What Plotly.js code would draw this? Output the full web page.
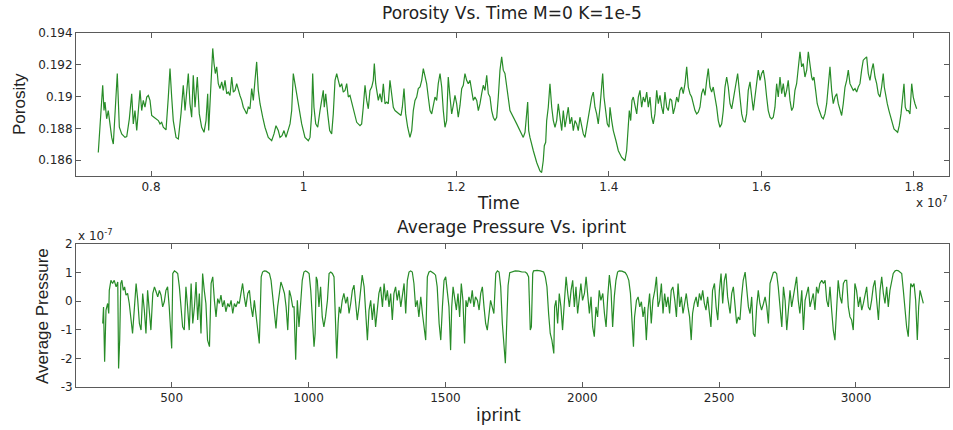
<!DOCTYPE html>
<html>
<head>
<meta charset="utf-8">
<script src="https://cdn.plot.ly/plotly-3.0.1.min.js"></script>
<style>
  html, body { margin: 0; padding: 0; background: #ffffff; }
  #chart { width: 953px; height: 430px; }
</style>
</head>
<body>
<div id="chart"></div>
<script>
// ---------- Top panel: Porosity vs Time (time in units of 1e7) ----------
const timeE7 = [
0.7309,0.7367,0.7384,0.7397,0.7419,0.7440,0.7485,0.7506,0.7558,0.7585,
0.7616,0.7659,0.7682,0.7716,0.7747,0.7768,0.7790,0.7813,0.7856,0.7878,
0.7899,0.7921,0.7944,0.7965,0.7987,0.8009,0.8039,0.8066,0.8096,0.8118,
0.8140,0.8161,0.8197,0.8227,0.8249,0.8271,0.8292,0.8328,0.8358,0.8393,
0.8423,0.8446,0.8468,0.8489,0.8511,0.8533,0.8554,0.8577,0.8607,0.8633,
0.8664,0.8695,0.8721,0.8743,0.8756,0.8782,0.8809,0.8826,0.8843,0.8861,
0.8882,0.8904,0.8927,0.8948,0.8970,0.8992,0.9013,0.9035,0.9058,0.9079,
0.9101,0.9123,0.9144,0.9166,0.9189,0.9210,0.9232,0.9254,0.9275,0.9297,
0.9320,0.9341,0.9363,0.9385,0.9406,0.9429,0.9464,0.9494,0.9537,0.9582,
0.9612,0.9638,0.9668,0.9691,0.9717,0.9743,0.9769,0.9799,0.9822,0.9844,
0.9865,0.9887,
0.9931,0.9975,1.0018,1.0062,1.0084,1.0106,1.0119,1.0136,1.0159,1.0185,
1.0215,1.0237,1.0258,1.0271,1.0290,1.0316,1.0342,1.0368,1.0389,1.0412,
1.0434,1.0455,1.0477,1.0499,1.0520,1.0543,1.0565,1.0586,1.0608,1.0630,
1.0664,1.0696,1.0739,1.0761,1.0782,1.0805,1.0827,1.0848,1.0870,1.0893,
1.0913,1.0927,1.0945,1.0958,1.0979,1.1001,1.1024,1.1045,1.1067,1.1089,
1.1110,1.1132,1.1155,1.1176,1.1198,1.1220,1.1250,1.1277,1.1294,1.1316,
1.1338,1.1364,1.1394,1.1417,1.1438,1.1460,1.1482,1.1503,1.1526,1.1548,
1.1569,1.1591,1.1613,1.1634,1.1657,1.1679,1.1700,1.1722,1.1744,1.1765,
1.1788,1.1810,1.1831,1.1853,1.1875,1.1896,1.1919,1.1941,1.1962,1.1984,
1.2006,1.2027,1.2050,1.2072,1.2093,1.2115,1.2137,1.2158,1.2181,1.2203,
1.2224,1.2246,1.2269,1.2290,1.2312,1.2334,1.2355,1.2377,1.2400,1.2421,
1.2443,1.2465,1.2486,1.2508,1.2531,1.2552,1.2574,1.2596,1.2617,1.2639,
1.2662,1.2683,
1.2705,1.2793,1.2879,1.2902,1.2924,1.2937,1.2950,1.2967,1.3011,1.3055,
1.3098,1.3120,1.3141,1.3155,1.3173,1.3186,1.3207,1.3229,1.3252,1.3273,
1.3295,1.3317,1.3338,1.3360,1.3383,1.3404,1.3426,1.3448,1.3469,1.3491,
1.3514,1.3535,1.3557,1.3579,1.3600,1.3622,1.3645,1.3666,1.3688,1.3710,
1.3731,1.3753,1.3776,1.3797,1.3819,1.3841,1.3862,1.3885,1.3907,1.3920,
1.3937,1.3959,1.3980,1.4003,1.4016,1.4038,1.4059,1.4094,1.4125,1.4169,
1.4212,1.4234,1.4256,1.4269,1.4287,1.4304,1.4321,1.4343,1.4366,1.4387,
1.4409,1.4431,1.4452,1.4474,1.4497,1.4518,1.4540,1.4562,1.4583,1.4605,
1.4628,1.4649,1.4671,1.4693,1.4714,1.4736,1.4759,1.4780,1.4802,1.4824,
1.4845,1.4867,1.4890,1.4911,1.4933,1.4955,1.4976,1.4999,1.5021,1.5042,
1.5064,1.5086,1.5107,1.5130,1.5152,1.5173,1.5195,1.5217,1.5238,1.5261,
1.5283,1.5304,1.5326,1.5348,1.5369,1.5392,1.5414,1.5435,1.5457,1.5480,
1.5501,1.5523,1.5545,1.5566,
1.5589,1.5611,1.5654,1.5689,1.5719,1.5742,1.5763,1.5785,1.5807,1.5828,
1.5851,1.5873,1.5894,1.5916,1.5938,1.5959,1.5982,1.6004,1.6025,1.6047,
1.6069,1.6090,1.6113,1.6135,1.6156,1.6178,1.6200,1.6221,1.6244,1.6266,
1.6287,1.6309,1.6331,1.6352,1.6375,1.6397,1.6418,1.6440,1.6462,1.6483,
1.6506,1.6528,1.6549,1.6571,1.6594,1.6615,1.6637,1.6659,1.6672,1.6689,
1.6711,1.6732,1.6759,1.6790,1.6811,1.6833,1.6856,1.6877,1.6899,1.6921,
1.6942,1.6964,1.6987,1.7008,1.7030,1.7052,1.7073,1.7096,1.7118,1.7139,
1.7161,1.7183,1.7204,1.7227,1.7249,1.7270,1.7292,1.7314,1.7335,1.7358,
1.7380,1.7401,1.7423,1.7445,1.7466,1.7489,1.7511,1.7532,1.7554,1.7576,
1.7597,1.7611,1.7629,1.7650,1.7672,1.7694,1.7715,1.7738,1.7760,1.7786,
1.7807,1.7830,1.7852,1.7869,1.7886,1.7904,1.7926,1.7947,1.7970,1.7991,
1.8013,1.8035
];

const porosity = [
0.18648,0.19071,0.18912,0.18965,0.18860,0.18912,0.18743,0.18701,0.19145,0.18807,
0.18765,0.18743,0.18748,0.18860,0.19018,0.18828,0.18912,0.18786,0.19039,0.18912,
0.18976,0.18933,0.18997,0.19007,0.18976,0.18881,0.18870,0.18860,0.18849,0.18828,
0.18838,0.18807,0.18790,0.18997,0.19176,0.18997,0.18849,0.18743,0.18733,0.18891,
0.19071,0.18912,0.19039,0.19145,0.18955,0.18870,0.19134,0.18933,0.19123,0.18891,
0.18807,0.18775,0.18849,0.19018,0.18786,0.19039,0.19303,0.19208,0.19145,0.19187,
0.19081,0.19050,0.19092,0.19039,0.19102,0.19018,0.19028,0.19007,0.19123,0.19028,
0.19039,0.19081,0.19039,0.19007,0.18976,0.18933,0.18912,0.18891,0.18933,0.18923,
0.19050,0.18976,0.19102,0.19218,0.19039,0.18955,0.18870,0.18807,0.18743,0.18722,
0.18765,0.18817,0.18786,0.18743,0.18754,0.18786,0.18743,0.18796,0.18828,0.18912,
0.19145,0.19081,
0.18955,0.18828,0.18743,0.18722,0.18743,0.18891,0.19145,0.18933,
0.18828,0.18807,0.18912,0.18976,0.19039,0.18933,0.19018,0.18891,0.18786,0.18765,
0.18891,0.19102,0.19145,0.19102,0.19060,0.19081,0.19028,0.19039,0.19081,0.18997,
0.19007,0.18965,0.18891,0.18838,0.18817,0.18828,0.18933,0.19071,0.18976,0.18923,
0.19039,0.19060,0.19102,0.19208,0.19081,0.19050,0.18976,0.19018,0.18965,0.19081,
0.18955,0.18965,0.18955,0.19102,0.18997,0.18933,0.18912,0.18902,0.18891,0.18881,
0.18933,0.19050,0.18891,0.18807,0.18743,0.18786,0.18912,0.18976,0.18997,0.19050,
0.19060,0.19102,0.19176,0.19123,0.19081,0.18997,0.18912,0.18891,0.18955,0.18997,
0.18976,0.19081,0.19145,0.19060,0.18912,0.18807,0.18849,0.19123,0.18997,0.18891,
0.18944,0.19007,0.18955,0.18870,0.18944,0.19050,0.19071,0.19145,0.19102,0.19081,
0.19102,0.19039,0.18976,0.18997,0.18976,0.18912,0.18955,0.19018,0.19071,0.19039,
0.19134,0.19018,0.18997,0.18912,0.18870,0.18849,0.18870,0.18997,0.19166,0.19250,
0.19166,0.19145,0.19060,0.18997,
0.18912,0.18828,0.18743,0.18775,0.18912,0.18965,
0.18786,0.18743,0.18659,0.18585,0.18532,0.18522,0.18596,0.18691,0.18712,0.18849,
0.18933,0.19081,0.18933,0.18849,0.18807,0.18849,0.18955,0.18870,0.18786,0.18912,
0.18807,0.18870,0.18933,0.18828,0.18870,0.18786,0.18849,0.18828,0.18786,0.18870,
0.18807,0.18765,0.18743,0.18807,0.18891,0.18955,0.18997,0.19028,0.18933,0.18891,
0.18828,0.18933,0.19039,0.19145,0.18997,0.18891,0.18828,0.18807,0.18933,0.18849,
0.18786,0.18722,0.18659,0.18617,0.18596,0.18659,0.18870,0.18912,0.18849,0.18976,
0.18997,0.18933,0.18891,0.18997,0.19039,0.18933,0.18997,0.18965,0.19028,0.18933,
0.18997,0.18870,0.18828,0.18891,0.19039,0.18955,0.19007,0.18933,0.18891,0.19028,
0.18933,0.18912,0.18986,0.18976,0.18891,0.18933,0.18997,0.18965,0.19039,0.19060,
0.19018,0.19081,0.19187,0.19060,0.19018,0.18997,0.18955,0.18912,0.18891,0.18902,
0.18933,0.19018,0.19050,0.19007,0.19102,0.19176,0.19060,0.19028,0.19060,0.18997,
0.18933,0.18849,0.18807,0.18828,0.18912,0.19060,0.19123,0.19060,
0.18955,0.18923,0.19039,0.19145,0.18997,0.18891,0.18849,0.18838,0.18891,0.19039,0.19092,0.18997,
0.18912,0.18997,0.19081,0.19166,0.19102,0.19145,0.19166,0.19102,0.18997,0.18912,
0.18870,0.18860,0.18870,0.18933,0.19081,0.18997,0.19123,0.19018,0.19081,0.18997,
0.19039,0.19102,0.18976,0.18912,0.18933,0.19039,0.19081,0.19187,0.19282,0.19187,
0.19208,0.19123,0.19166,0.19282,0.19187,0.19123,0.19102,0.19123,0.19039,0.18955,
0.18912,0.18870,0.18860,0.18891,0.18955,0.19060,0.19187,0.19039,0.18955,0.18997,
0.19018,0.18955,0.18912,0.18881,0.18955,0.19060,0.19102,0.19166,0.19081,0.19060,
0.19039,0.19050,0.19028,0.19060,0.19081,0.19166,0.19229,0.19240,0.19250,0.19145,
0.19102,0.19166,0.19208,0.19123,0.19081,0.19018,0.18997,0.19060,0.19145,0.19060,
0.18997,0.18955,0.18912,0.18870,0.18828,0.18796,0.18786,0.18775,0.18817,0.18891,
0.18997,0.19081,0.18933,0.18912,0.18912,0.18891,0.19081,0.18997,0.18955,0.18923
];

// ---------- Bottom panel: Average Pressure (units of 1e-7) vs iprint ----------
const iprint = [
248,251,255,260,266,270,272,278,284,290,297,303,306,310,314,318,323,328,333,339,
345,351,357,364,370,376,382,388,394,400,406,412,418,424,431,437,443,449,455,461,
467,473,479,485,491,496,500,504,510,516,522,528,534,540,546,552,558,564,571,577,
583,589,595,601,607,613,619,625,631,638,644,650,656,662,668,674,680,686,692,698,
705,711,717,723,729,735,741,747,753,759,765,771,778,784,790,796,802,808,814,820,
824,827,832,838,845,851,857,863,869,875,881,887,893,899,905,912,918,924,930,936,
942,
947,953,959,965,971,977,983,989,996,1002,1008,1014,1020,1024,1028,1032,1038,1044,1050,1056,
1062,1069,1075,1081,1087,1093,1099,1103,1108,1112,1117,1123,1129,1136,1142,1148,1154,1160,1166,1172,
1178,1184,1190,1196,1203,1209,1215,1221,1227,1233,1239,1245,1251,1257,1263,1270,1276,1282,1288,1294,
1300,1306,1312,1318,1324,1330,1337,1343,1349,1355,1361,1367,1373,1379,1385,1391,1397,1403,1410,1416,
1422,1428,1434,1440,1446,1452,1458,1464,1470,1477,1483,1489,1495,1501,1507,1513,1519,1523,1528,1534,
1540,1546,1552,1558,1564,1570,1575,1580,1586,1592,1598,1604,1610,1617,1623,1629,1635,1641,1647,1653,
1659,1665,1671,1677,1684,1690,1696,1702,1708,1714,1719,1724,1729,1735,
1743,1755,1768,1780,1792,1798,1804,1810,1814,1819,1822,1835,1847,1859,1865,1871,1877,1883,1889,1896,
1899,1904,1910,1916,1922,1928,1935,1941,1947,1953,1959,1965,1971,1977,1983,1989,1995,2001,2008,2014,
2020,2026,2032,2038,2044,2050,2056,2062,2068,2075,2081,2087,2093,2099,2105,2111,2117,2123,2129,2135,
2145,2157,2163,2170,2176,2182,2187,2191,2198,2204,2210,2216,2222,2228,2234,2240,2246,2252,2258,2265,
2271,2277,2283,2289,2295,2301,2307,2313,2319,2325,2331,2338,2344,2350,2356,2362,2368,2374,2380,2386,
2392,2398,2403,2409,2416,2422,2428,2434,2440,2446,2452,2458,2464,2470,2476,2483,2489,2495,2501,2507,
2513,2519,2525,2531,
2540,2546,2552,2558,2564,2570,2576,2582,2588,2595,2601,2607,2613,2619,2625,2631,2637,2643,2649,2655,
2662,2668,2674,2680,2686,2692,2698,2704,2710,2716,2722,2729,2735,2741,2747,2753,2759,2765,2771,2777,
2783,2789,2795,2802,2808,2814,2820,2826,2832,2838,2844,2850,2856,2862,2868,2875,2881,2887,2893,2899,
2905,2911,2917,2923,2929,2935,2942,2948,2954,2960,2966,2972,2978,2984,2990,2996,3002,3009,3015,3021,
3027,3033,3039,3045,3051,3057,3063,3069,3076,3082,3088,3094,3100,3106,3112,3118,3124,3130,3136,3143,
3149,3155,3161,3167,3173,3179,3185,3191,3195,3200,3206,3212,3218,3224,3229,3234,3240,3246
];

const avgPressureE7 = [
-0.78,-0.20,-2.12,-0.31,-0.08,-0.43,0.38,0.73,0.62,0.73,0.50,0.67,-2.35,-1.36,0.62,0.73,0.38,0.50,0.21,0.27,
-0.08,-0.55,-1.13,-0.20,0.62,0.03,-0.78,-1.01,0.27,-0.31,-1.13,0.38,-0.20,-1.01,0.27,0.50,0.33,0.15,0.38,0.21,
-0.20,-0.02,0.38,0.50,-0.20,-0.90,-1.65,0.97,1.06,1.02,0.97,0.50,-0.20,-0.90,-1.01,0.50,-0.20,-1.01,0.62,-0.78,
-0.20,0.67,-0.66,0.27,-1.13,0.97,0.38,-0.08,-1.36,-1.59,0.62,0.85,0.03,-0.55,0.09,-0.08,0.21,-0.20,0.03,-0.37,
-0.08,-0.20,0.03,-0.43,-0.08,-0.20,-0.02,-0.08,0.27,0.62,0.15,-0.20,0.27,0.38,-0.20,-0.55,0.03,-0.43,-1.01,-1.48,
-0.20,0.85,1.02,1.06,1.05,1.02,0.97,0.73,0.15,-0.55,-0.95,-0.20,0.27,0.67,0.50,0.27,-0.20,-1.01,0.38,0.15,
-0.20,
-0.20,-2.05,0.03,-0.90,-0.08,0.73,1.02,1.06,1.02,0.97,0.38,-0.66,-1.59,-1.13,0.85,0.73,-0.20,0.50,-0.55,-0.90,
-0.55,0.03,0.97,1.02,0.97,0.85,-0.78,-2.00,-0.78,-0.20,-0.43,0.03,0.27,-0.08,0.15,-0.43,-0.08,0.38,0.56,0.03,
-0.66,-0.20,0.50,0.91,0.50,-0.55,-1.36,-0.31,0.03,-0.66,-0.08,-0.90,-0.20,0.27,0.50,-0.20,0.62,0.03,0.38,-0.20,
0.27,-0.66,0.27,0.50,0.03,0.38,-0.20,0.15,0.62,-0.43,0.73,1.02,1.06,1.02,0.62,-0.20,0.03,-0.55,0.15,-0.43,
-0.90,-1.36,0.85,1.02,1.05,1.02,0.97,0.91,0.50,-0.78,-1.36,-0.20,0.73,0.85,0.38,-0.20,-1.71,-0.20,0.50,0.15,
-0.31,0.27,-0.55,0.62,0.03,-1.48,0.03,-0.20,0.15,-0.08,0.38,-0.20,0.15,0.03,-0.31,0.27,0.50,-0.20,-0.78,-1.01,
-0.43,0.03,-0.20,-0.43,0.97,1.06,1.02,0.50,-0.78,-1.71,-2.17,-0.78,0.55,1.00,
1.02,1.06,1.05,1.02,1.02,0.97,0.85,-1.01,-0.90,0.97,1.06,1.08,1.06,1.02,0.85,0.50,-0.43,-1.13,-1.36,-1.83,
-0.20,0.03,-0.78,0.27,-0.20,-1.01,0.03,0.85,0.27,-0.20,0.38,0.73,-0.20,0.50,-0.43,0.15,0.62,0.03,0.27,0.85,
0.03,-0.43,0.15,-0.90,-1.24,-0.20,-0.55,0.38,0.03,0.27,-0.43,-0.90,0.15,0.91,0.38,-0.90,0.15,0.73,1.02,1.06,
1.05,1.00,0.91,0.73,0.27,-0.55,-1.59,-0.55,0.03,0.15,-0.20,-0.02,-0.55,-0.20,-1.36,-0.31,0.27,-0.78,0.03,0.38,
0.85,-0.20,0.03,0.62,-0.43,0.27,-0.20,0.15,-0.43,0.38,0.50,0.03,-0.55,0.62,-0.20,0.15,-0.43,-0.08,0.27,-0.20,
-0.55,-1.36,-0.43,-0.08,0.15,-0.20,0.27,0.03,0.38,-0.08,-0.31,0.15,-0.31,-0.90,0.38,0.62,-0.20,-0.66,0.38,0.97,
-0.08,0.73,0.97,0.15,
-0.43,0.27,0.50,-0.20,-0.78,-0.55,-0.66,0.15,0.73,1.02,0.50,-0.20,-0.43,0.15,-1.13,-1.24,-0.20,0.38,-0.08,-0.31,
-0.08,0.15,-0.20,-0.78,0.62,0.85,1.00,1.02,0.97,0.50,-0.20,-0.90,0.50,0.03,-1.01,-0.20,0.38,-0.20,0.15,0.38,
0.85,0.03,-0.43,0.38,-1.01,0.03,0.27,0.50,-0.20,0.03,0.27,-0.31,0.50,0.27,0.62,0.73,0.62,0.73,0.03,-0.20,
0.50,-0.31,-1.01,-1.36,-0.20,0.73,0.15,-0.08,0.62,0.73,0.73,-0.20,-0.55,-0.66,-1.01,0.62,0.38,-0.20,0.15,-0.31,
-0.08,0.27,0.50,-0.20,-0.31,0.03,0.50,0.73,0.03,-0.66,0.38,0.85,0.27,-0.08,0.50,-0.20,0.38,0.62,0.97,1.06,
1.08,1.06,1.02,0.97,0.38,-0.43,-0.90,-1.24,-0.20,0.62,0.50,0.62,0.03,-1.36,-0.20,0.38,0.15,-0.08
];

// ---------- Tick values and labels ----------
const timeTickVals = [0.8, 1, 1.2, 1.4, 1.6, 1.8];
const timeTickText = ['0.8', '1', '1.2', '1.4', '1.6', '1.8'];
const porosityTickVals = [0.186, 0.188, 0.19, 0.192, 0.194];
const porosityTickText = ['0.186', '0.188', '0.19', '0.192', '0.194'];
const iprintTickVals = [500, 1000, 1500, 2000, 2500, 3000];
const iprintTickText = ['500', '1000', '1500', '2000', '2500', '3000'];
const pressureTickVals = [-3, -2, -1, 0, 1, 2];
const pressureTickText = ['-3', '-2', '-1', '0', '1', '2'];

const titleTop = 'Porosity Vs. Time M=0 K=1e-5';
const titleBottom = 'Average Pressure Vs. iprint';

const lineColor = 'rgb(40,140,40)';
const axisColor = '#5a5a5a';
const tickFont = { family: 'DejaVu Sans, Liberation Sans, Arial', size: 12, color: '#262626' };

function axisStyle(extra) {
  return Object.assign({
    showline: true, linecolor: axisColor, linewidth: 1, mirror: 'ticks',
    ticks: 'inside', ticklen: 5, tickwidth: 1, tickcolor: axisColor,
    showgrid: false, zeroline: false, tickfont: tickFont, tickmode: 'array',
    fixedrange: true
  }, extra);
}

const traces = [
  { x: timeE7, y: porosity, type: 'scatter', mode: 'lines', xaxis: 'x', yaxis: 'y',
    line: { color: lineColor, width: 1.2 }, hoverinfo: 'skip' },
  { x: iprint, y: avgPressureE7, type: 'scatter', mode: 'lines', xaxis: 'x2', yaxis: 'y2',
    line: { color: lineColor, width: 1.2 }, hoverinfo: 'skip' }
];

const labFont = { family: 'DejaVu Sans, Liberation Sans, Arial', size: 17, color: '#222' };
const vLabFont = { family: 'Liberation Sans, Arial', size: 17, color: '#222' };

const layout = {
  width: 953, height: 430,
  margin: { l: 76, r: 4, t: 33, b: 43, pad: 0 },
  paper_bgcolor: '#ffffff', plot_bgcolor: '#ffffff',
  showlegend: false,
  xaxis: axisStyle({ domain: [0, 1], anchor: 'y', range: [0.7017, 1.8459],
    tickvals: timeTickVals, ticktext: timeTickText }),
  yaxis: axisStyle({ domain: [0.596, 1], anchor: 'x', range: [0.185, 0.194],
    tickvals: porosityTickVals, ticktext: porosityTickText }),
  xaxis2: axisStyle({ domain: [0, 1], anchor: 'y2', range: [150.4, 3339.8],
    tickvals: iprintTickVals, ticktext: iprintTickText }),
  yaxis2: axisStyle({ domain: [0, 0.404], anchor: 'x2', range: [-3, 2],
    tickvals: pressureTickVals, ticktext: pressureTickText }),
  annotations: [
    { text: titleTop, xref: 'paper', yref: 'paper', x: 0.4994, y: 1.056,
      xanchor: 'center', yanchor: 'middle', showarrow: false, font: labFont },
    { text: titleBottom, xref: 'paper', yref: 'paper', x: 0.4994, y: 0.451,
      xanchor: 'center', yanchor: 'middle', showarrow: false, font: labFont },
    { text: 'Time', xref: 'paper', yref: 'paper', x: 0.4845, y: 0.5198,
      xanchor: 'center', yanchor: 'middle', showarrow: false, font: labFont },
    { text: 'iprint', xref: 'paper', yref: 'paper', x: 0.4834, y: -0.0791,
      xanchor: 'center', yanchor: 'middle', showarrow: false, font: labFont },
    { text: 'Porosity', xref: 'paper', yref: 'paper', x: -0.0653, y: 0.7994,
      xanchor: 'center', yanchor: 'middle', textangle: -90, showarrow: false, font: vLabFont },
    { text: 'Average Pressure', xref: 'paper', yref: 'paper', x: -0.0378, y: 0.2006,
      xanchor: 'center', yanchor: 'middle', textangle: -90, showarrow: false, font: vLabFont },
    { text: 'x 10<sup>7</sup>', xref: 'paper', yref: 'paper', x: 0.9805, y: 0.522,
      xanchor: 'center', yanchor: 'middle', showarrow: false, font: tickFont },
    { text: 'x 10<sup>-7</sup>', xref: 'paper', yref: 'paper', x: 0.0, y: 0.428,
      xanchor: 'left', yanchor: 'middle', showarrow: false, font: tickFont }
  ]
};

Plotly.newPlot('chart', traces, layout, { displayModeBar: false, staticPlot: true });
</script>
</body>
</html>
